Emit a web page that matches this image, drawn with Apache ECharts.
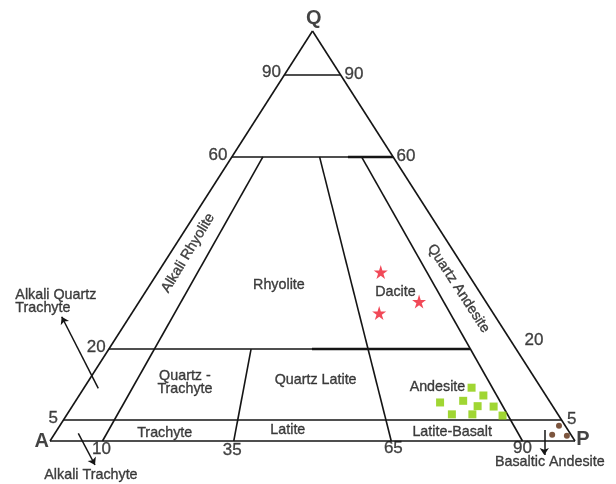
<!DOCTYPE html>
<html><head><meta charset="utf-8">
<script src="https://cdn.jsdelivr.net/npm/echarts@6/dist/echarts.min.js"></script>
<style>html,body{margin:0;padding:0;background:#fff}#c{width:616px;height:484px}</style>
</head><body><div id="c"></div>
<script>
// ---- data (ternary compositions [Q, P], A = 100 - Q - P) ----
const qLevels = [89.3, 69.3, 22.4, 5.1];          // horizontal boundaries as drawn
const qTickLabels = ['90', '60', '20', '5'];
const qLevelRightEnd = [10.7, 30.7, 68.8, 94.9]; // P at the right end of each horizontal line
const baseTicks = [10, 35, 65, 90];              // P/(A+P) where dividers meet the base
const baseTickLabels = ['10', '35', '65', '90'];
const dividerTopQ = [69.3, 22.4, 69.3, 69.3];
const dividerTopP = [5.9, 27.1, 16.7, 24.7];
const daciteQ = [41.2, 34.0, 31.2];
const daciteP = [42.4, 53.3, 47.1];
const andesiteQ = [13.0, 11.1, 9.4, 9.8, 8.5, 8.4, 6.5, 6.5, 6.2];
const andesiteP = [73.8, 77.0, 69.6, 73.8, 77.2, 80.3, 73.3, 77.2, 83.1];
const basAndQ = [3.7, 1.5, 1.3];
const basAndP = [95.1, 94.9, 97.8];

// ternary -> diagram units (x along base 0..100, y = Q)
function tern(q, p) { return [p + q / 2, q]; }

const INK = '#151515';
const segs = [];
segs.push([tern(0, 0), tern(0, 100)]);
segs.push([tern(0, 100), tern(100, 0)]);
segs.push([tern(100, 0), tern(0, 0)]);
qLevels.forEach((q, i) => segs.push([tern(q, 0), tern(q, qLevelRightEnd[i])]));
baseTicks.forEach((b, i) => segs.push([tern(dividerTopQ[i], dividerTopP[i]), tern(0, b)]));
const thickSegs = [
  [tern(qLevels[1], 22.1), tern(qLevels[1], qLevelRightEnd[1])],
  [tern(qLevels[2], 38.7), tern(qLevels[2], qLevelRightEnd[2])]
];

// annotation layout (diagram units)
const numLabels = [
  [qTickLabels[0], 42.2, 90.0], [qTickLabels[0], 57.9, 89.5],
  [qTickLabels[1], 32.0, 69.6], [qTickLabels[1], 67.8, 69.5],
  [qTickLabels[2], 8.8, 22.9], [qTickLabels[2], 92.2, 24.5],
  [qTickLabels[3], 0.6, 5.5], [qTickLabels[3], 99.4, 5.4],
  [baseTickLabels[0], 9.8, -1.95], [baseTickLabels[1], 34.7, -2.37],
  [baseTickLabels[2], 65.4, -1.8], [baseTickLabels[3], 90.0, -1.8]
];
const vertexLabels = [['Q', 50.25, 103.1], ['A', -1.6, 0], ['P', 101.5, 0.25]];
const fieldLabels = [
  ['Alkali Quartz\nTrachyte', -6.6, 34.0, {align: 'left'}],
  ['Alkali Trachyte', 7.8, -8.3],
  ['Quartz -\nTrachyte', 25.7, 14.2],
  ['Trachyte', 21.85, 2.0],
  ['Quartz Latite', 50.6, 14.9],
  ['Latite', 45.3, 2.7],
  ['Latite-Basalt', 76.6, 2.3],
  ['Andesite', 73.8, 13.1],
  ['Basaltic Andesite', 95.2, -5.05],
  ['Dacite', 65.8, 36.4],
  ['Rhyolite', 43.6, 38.05],
  ['Alkali Rhyolite', 26.3, 45.85, {rotate: 59}],
  ['Quartz Andesite', 77.8, 37.2, {rotate: -57}]
];
const arrows = [
  [[9.2, 12.85], [2.23, 30.3]],
  [[5.39, 1.88], [8.57, -5.85]],
  [[94.15, 2.68], [94.15, -3.4]]
];

function textSeries(list, fontSize, weight, lineHeight, border) {
  return {
    type: 'scatter', symbolSize: 1, clip: false, silent: true,
    itemStyle: {color: 'rgba(0,0,0,0)'},
    data: list.map(l => {
      const o = l[3] || {};
      return {value: [l[1], l[2]], name: l[0],
        label: {show: true, position: 'inside', formatter: '{b}', color: '#141414',
          fontFamily: 'Liberation Sans, Arial, sans-serif', fontSize: fontSize, fontWeight: weight,
          lineHeight: lineHeight, align: o.align || 'center', rotate: o.rotate || 0,
          textBorderColor: '#141414', textBorderWidth: border || 0,
          verticalAlign: 'middle'}};
    }),
    z: 10
  };
}

const star = 'path://M50,0 L61.2,34.5 L97.6,34.5 L68.2,55.9 L79.4,90.5 L50,69.1 L20.6,90.5 L31.8,55.9 L2.4,34.5 L38.8,34.5 Z';

const chart = echarts.init(document.getElementById('c'), null, {renderer: 'canvas'});
chart.setOption({
  animation: false,
  backgroundColor: '#fff',
  grid: {left: 50, right: 41, top: 31, bottom: 43},
  xAxis: {type: 'value', min: 0, max: 100, show: false},
  yAxis: {type: 'value', min: 0, max: 100, show: false},
  series: [
    {type: 'lines', coordinateSystem: 'cartesian2d', clip: false, silent: true,
      lineStyle: {color: INK, width: 1.6, opacity: 1},
      data: segs.map(s => ({coords: s}))},
    {type: 'lines', coordinateSystem: 'cartesian2d', clip: false, silent: true,
      lineStyle: {color: INK, width: 2.4, opacity: 1},
      data: thickSegs.map(s => ({coords: s}))},
    {type: 'lines', coordinateSystem: 'cartesian2d', clip: false, silent: true,
      symbol: ['none', 'arrow'], symbolSize: 7,
      lineStyle: {color: INK, width: 1.5, opacity: 1},
      data: arrows.map(s => ({coords: s}))},
    textSeries(numLabels, 17, 'normal', null, 0.3),
    textSeries(vertexLabels, 20, 'bold'),
    textSeries(fieldLabels, 14.3, 'normal', 13, 0.35),
    {type: 'scatter', symbol: star, symbolSize: 14, clip: false,
      itemStyle: {color: '#ee1c2e'},
      data: daciteQ.map((q, i) => tern(q, daciteP[i]))},
    {type: 'scatter', symbol: 'rect', symbolSize: 8, clip: false,
      itemStyle: {color: '#88cc00'},
      data: andesiteQ.map((q, i) => tern(q, andesiteP[i]))},
    {type: 'scatter', symbol: 'circle', symbolSize: 6, clip: false,
      itemStyle: {color: '#5b2b0e'},
      data: basAndQ.map((q, i) => tern(q, basAndP[i]))}
  ]
});
</script></body></html>
